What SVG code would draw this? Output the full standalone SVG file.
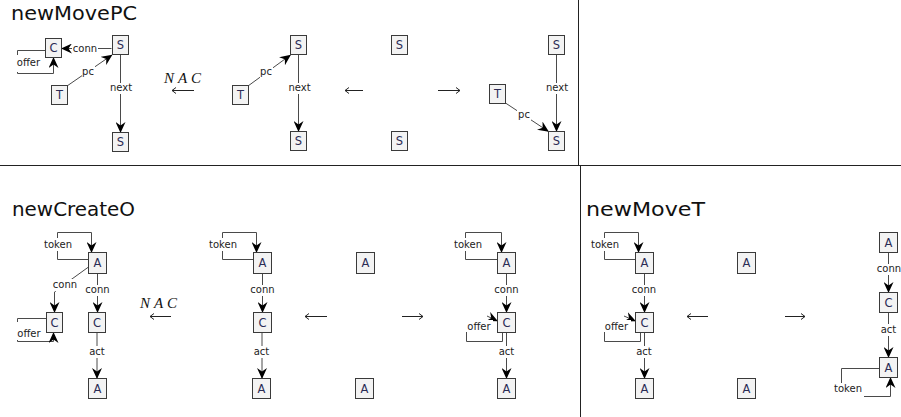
<svg xmlns="http://www.w3.org/2000/svg" width="901" height="417" viewBox="0 0 901 417">
  <defs>
    <marker id="ah" viewBox="0 0 11 10" refX="10.5" refY="5" markerWidth="11" markerHeight="10" markerUnits="userSpaceOnUse" orient="auto">
      <path d="M0,0 L11,5 L0,10 L3.5,5 z" fill="#000"/>
    </marker>
    <style>
      .box { fill:#f3f3f3; stroke:#3a3a3a; stroke-width:1 }
      .nl { font-family:"DejaVu Sans",sans-serif; font-size:11.5px; fill:#2b2b55; text-anchor:middle }
      .e { fill:none; stroke:#4a4a4a; stroke-width:1; marker-end:url(#ah) }
      .bg { fill:#fff }
      .lt { font-family:"DejaVu Sans",sans-serif; font-size:10px; fill:#222; text-anchor:middle }
      .title { font-family:"DejaVu Sans",sans-serif; font-size:19px; fill:#111 }
      .nac { font-family:"Liberation Serif",serif; font-style:italic; font-size:15px; fill:#111 }
      .mor { fill:none; stroke:#222; stroke-width:1 }
      .div { fill:none; stroke:#222; stroke-width:1 }
    </style>
  </defs>

  <!-- panel dividers -->
  <g id="dividers">
    <path class="div" d="M0,165.5 H901"/>
    <path class="div" d="M578.5,0 V165.5"/>
    <path class="div" d="M580.5,165.5 V417"/>
  </g>

  <!-- rule titles -->
  <g id="titles">
    <text class="title" x="11" y="19.5" textLength="126" lengthAdjust="spacingAndGlyphs">newMovePC</text>
    <text class="title" x="12" y="216" textLength="123" lengthAdjust="spacingAndGlyphs">newCreateO</text>
    <text class="title" x="586" y="216" textLength="119" lengthAdjust="spacingAndGlyphs">newMoveT</text>
  </g>

  <!-- rule morphisms (NAC <- L <- K -> R) -->
  <g id="morphisms">
    <text class="nac" x="164" y="83" textLength="37" lengthAdjust="spacing">NAC</text>
    <path class="mor" d="M194,90.5 H172 M176,87.5 L172,90.5 L176,93.5"/>
    <path class="mor" d="M363,90.5 H345 M349,87.5 L345,90.5 L349,93.5"/>
    <path class="mor" d="M438,90.5 H460 M456,87.5 L460,90.5 L456,93.5"/>

    <text class="nac" x="140" y="308" textLength="37" lengthAdjust="spacing">NAC</text>
    <path class="mor" d="M171,316.5 H150 M154,313.5 L150,316.5 L154,319.5"/>
    <path class="mor" d="M327,316.5 H305 M309,313.5 L305,316.5 L309,319.5"/>
    <path class="mor" d="M402,316.5 H423 M419,313.5 L423,316.5 L419,319.5"/>

    <path class="mor" d="M708,316.5 H687 M691,313.5 L687,316.5 L691,319.5"/>
    <path class="mor" d="M785,316.5 H805 M801,313.5 L805,316.5 L801,319.5"/>
  </g>

  <!-- edges -->
  <g id="connectors">
    <!-- newMovePC : NAC -->
    <path class="e" d="M111.5,48.5 H61.5"/>
    <path class="e" d="M45.5,50.5 H17.5 V73.5 H53.5 V57.5"/>
    <path class="e" d="M67,86 L112,55"/>
    <path class="e" d="M120.5,54.5 V132.5"/>
    <!-- newMovePC : L -->
    <path class="e" d="M248,86 L290.5,55"/>
    <path class="e" d="M298.5,54.5 V131.5"/>
    <!-- newMovePC : R -->
    <path class="e" d="M556.5,54.5 V131.5"/>
    <path class="e" d="M505.5,103 L548.5,131.5"/>

    <!-- newCreateO : NAC -->
    <path class="e" d="M88.5,259.5 H57.5 V232.5 H91.5 V252.5"/>
    <path class="e" d="M88.5,267 L65,284 L54.5,292 V312.5"/>
    <path class="e" d="M97.5,273.5 V312.5"/>
    <path class="e" d="M46.5,318.5 H17.5 V341.5 H53.5 V332.5"/>
    <path class="e" d="M97,332.5 V378.5"/>
    <!-- newCreateO : L -->
    <path class="e" d="M253.5,259.5 H222.5 V232.5 H256.5 V252.5"/>
    <path class="e" d="M262.5,273.5 V312.5"/>
    <path class="e" d="M262,332.5 V378.5"/>
    <!-- newCreateO : R -->
    <path class="e" d="M497.5,259.5 H465.5 V232.5 H501.5 V252.5"/>
    <path class="e" d="M506.5,273.5 V312.5"/>
    <path class="e" d="M502.5,332.5 V341.5 H466.5 V332 M487,316 L497.5,321"/>
    <path class="e" d="M506.5,332.5 V378.5"/>

    <!-- newMoveT : L -->
    <path class="e" d="M635.5,259.5 H604.5 V232.5 H638.5 V252.5"/>
    <path class="e" d="M644.5,273.5 V312.5"/>
    <path class="e" d="M640.5,332.5 V341.5 H604.5 V332 M624,316 L635.5,321"/>
    <path class="e" d="M644.5,332.5 V378.5"/>
    <!-- newMoveT : R -->
    <path class="e" d="M888.5,252.5 V292.5"/>
    <path class="e" d="M888.5,312.5 V357.5"/>
    <path class="e" d="M879.5,368.5 H841.5 V396.5 H890.5 V377.5"/>

    <!-- edge labels -->
    <g id="edge-labels">
      <rect class="bg" x="72" y="42" width="26" height="12"/><text class="lt" x="85" y="51.5">conn</text>
      <rect class="bg" x="14" y="55" width="29" height="17"/><text class="lt" x="28.5" y="66">offer</text>
      <rect class="bg" x="82" y="66" width="13" height="12"/><text class="lt" x="88" y="75">pc</text>
      <rect class="bg" x="109" y="83" width="24" height="11"/><text class="lt" x="121" y="91">next</text>

      <rect class="bg" x="260" y="66" width="13" height="12"/><text class="lt" x="266" y="75">pc</text>
      <rect class="bg" x="288" y="83" width="23" height="11"/><text class="lt" x="299.5" y="91">next</text>

      <rect class="bg" x="545" y="83" width="24" height="11"/><text class="lt" x="557" y="91">next</text>
      <rect class="bg" x="517" y="109" width="14" height="12"/><text class="lt" x="524" y="118">pc</text>

      <rect class="bg" x="42" y="238" width="32" height="13"/><text class="lt" x="58" y="248">token</text>
      <rect class="bg" x="52" y="279" width="26" height="12"/><text class="lt" x="65" y="287.5">conn</text>
      <rect class="bg" x="85" y="285" width="25" height="11"/><text class="lt" x="97.5" y="293">conn</text>
      <rect class="bg" x="15" y="322" width="28" height="18"/><text class="lt" x="29" y="337">offer</text>
      <rect class="bg" x="88" y="346" width="18" height="12"/><text class="lt" x="97" y="355">act</text>

      <rect class="bg" x="207" y="238" width="32" height="13"/><text class="lt" x="223" y="248">token</text>
      <rect class="bg" x="250" y="285" width="25" height="11"/><text class="lt" x="262.5" y="293">conn</text>
      <rect class="bg" x="252" y="346" width="19" height="12"/><text class="lt" x="261.5" y="355">act</text>

      <rect class="bg" x="452" y="238" width="32" height="13"/><text class="lt" x="468" y="248">token</text>
      <rect class="bg" x="494" y="285" width="25" height="11"/><text class="lt" x="506.5" y="293">conn</text>
      <rect class="bg" x="464" y="320" width="29" height="12"/><text class="lt" x="479" y="330">offer</text>
      <rect class="bg" x="497" y="346" width="19" height="12"/><text class="lt" x="506.5" y="355">act</text>

      <rect class="bg" x="589" y="238" width="32" height="13"/><text class="lt" x="605" y="248">token</text>
      <rect class="bg" x="631" y="285" width="26" height="11"/><text class="lt" x="644" y="293">conn</text>
      <rect class="bg" x="602" y="320" width="29" height="12"/><text class="lt" x="616.5" y="330">offer</text>
      <rect class="bg" x="635" y="346" width="18" height="12"/><text class="lt" x="644" y="355">act</text>

      <rect class="bg" x="876" y="264" width="25" height="11"/><text class="lt" x="889" y="272">conn</text>
      <rect class="bg" x="879" y="324" width="19" height="12"/><text class="lt" x="888.5" y="333">act</text>
      <rect class="bg" x="832" y="383" width="32" height="15"/><text class="lt" x="848" y="392">token</text>
    </g>
  </g>

  <!-- newMovePC : NAC nodes -->
  <g id="pc-nac-C"><rect class="box" x="45.5" y="38.5" width="16" height="19"/><text class="nl" x="53.5" y="52">C</text></g>
  <g id="pc-nac-S1"><rect class="box" x="112.5" y="35.5" width="16" height="19"/><text class="nl" x="120.5" y="49">S</text></g>
  <g id="pc-nac-T"><rect class="box" x="51.5" y="85.5" width="16" height="19"/><text class="nl" x="59.5" y="99">T</text></g>
  <g id="pc-nac-S2"><rect class="box" x="112.5" y="132.5" width="16" height="19"/><text class="nl" x="120.5" y="146">S</text></g>
  <!-- newMovePC : L nodes -->
  <g id="pc-l-T"><rect class="box" x="232.5" y="85.5" width="16" height="19"/><text class="nl" x="240.5" y="99">T</text></g>
  <g id="pc-l-S1"><rect class="box" x="290.5" y="35.5" width="16" height="19"/><text class="nl" x="298.5" y="49">S</text></g>
  <g id="pc-l-S2"><rect class="box" x="290.5" y="131.5" width="16" height="19"/><text class="nl" x="298.5" y="145">S</text></g>
  <!-- newMovePC : K nodes -->
  <g id="pc-k-S1"><rect class="box" x="391.5" y="35.5" width="16" height="19"/><text class="nl" x="399.5" y="49">S</text></g>
  <g id="pc-k-S2"><rect class="box" x="391.5" y="131.5" width="16" height="19"/><text class="nl" x="399.5" y="145">S</text></g>
  <!-- newMovePC : R nodes -->
  <g id="pc-r-S1"><rect class="box" x="548.5" y="35.5" width="16" height="19"/><text class="nl" x="556.5" y="49">S</text></g>
  <g id="pc-r-T"><rect class="box" x="489.5" y="84.5" width="16" height="19"/><text class="nl" x="497.5" y="98">T</text></g>
  <g id="pc-r-S2"><rect class="box" x="548.5" y="131.5" width="16" height="19"/><text class="nl" x="556.5" y="145">S</text></g>

  <!-- newCreateO : NAC nodes -->
  <g id="co-nac-A1"><rect class="box" x="88.5" y="252.5" width="18" height="21"/><text class="nl" x="97.5" y="267">A</text></g>
  <g id="co-nac-C1"><rect class="box" x="46.5" y="312.5" width="16" height="20"/><text class="nl" x="54.5" y="326.5">C</text></g>
  <g id="co-nac-C2"><rect class="box" x="88.5" y="312.5" width="17" height="20"/><text class="nl" x="97" y="326.5">C</text></g>
  <g id="co-nac-A2"><rect class="box" x="88.5" y="378.5" width="18" height="20"/><text class="nl" x="97.5" y="392.5">A</text></g>
  <!-- newCreateO : L nodes -->
  <g id="co-l-A1"><rect class="box" x="253.5" y="252.5" width="18" height="21"/><text class="nl" x="262.5" y="267">A</text></g>
  <g id="co-l-C"><rect class="box" x="253.5" y="312.5" width="18" height="20"/><text class="nl" x="262.5" y="326.5">C</text></g>
  <g id="co-l-A2"><rect class="box" x="252.5" y="378.5" width="18" height="20"/><text class="nl" x="261.5" y="392.5">A</text></g>
  <!-- newCreateO : K nodes -->
  <g id="co-k-A1"><rect class="box" x="356.5" y="252.5" width="18" height="21"/><text class="nl" x="365.5" y="267">A</text></g>
  <g id="co-k-A2"><rect class="box" x="355.5" y="378.5" width="18" height="20"/><text class="nl" x="364.5" y="392.5">A</text></g>
  <!-- newCreateO : R nodes -->
  <g id="co-r-A1"><rect class="box" x="497.5" y="252.5" width="18" height="21"/><text class="nl" x="506.5" y="267">A</text></g>
  <g id="co-r-C"><rect class="box" x="497.5" y="312.5" width="18" height="20"/><text class="nl" x="506.5" y="326.5">C</text></g>
  <g id="co-r-A2"><rect class="box" x="497.5" y="378.5" width="18" height="20"/><text class="nl" x="506.5" y="392.5">A</text></g>

  <!-- newMoveT : L nodes -->
  <g id="mt-l-A1"><rect class="box" x="635.5" y="252.5" width="18" height="21"/><text class="nl" x="644.5" y="267">A</text></g>
  <g id="mt-l-C"><rect class="box" x="635.5" y="312.5" width="18" height="20"/><text class="nl" x="644.5" y="326.5">C</text></g>
  <g id="mt-l-A2"><rect class="box" x="635.5" y="378.5" width="18" height="20"/><text class="nl" x="644.5" y="392.5">A</text></g>
  <!-- newMoveT : K nodes -->
  <g id="mt-k-A1"><rect class="box" x="737.5" y="252.5" width="18" height="21"/><text class="nl" x="746.5" y="267">A</text></g>
  <g id="mt-k-A2"><rect class="box" x="737.5" y="378.5" width="18" height="20"/><text class="nl" x="746.5" y="392.5">A</text></g>
  <!-- newMoveT : R nodes -->
  <g id="mt-r-A1"><rect class="box" x="879.5" y="232.5" width="18" height="20"/><text class="nl" x="888.5" y="246.5">A</text></g>
  <g id="mt-r-C"><rect class="box" x="879.5" y="292.5" width="18" height="20"/><text class="nl" x="888.5" y="306.5">C</text></g>
  <g id="mt-r-A2"><rect class="box" x="879.5" y="357.5" width="18" height="20"/><text class="nl" x="888.5" y="371.5">A</text></g>
</svg>
